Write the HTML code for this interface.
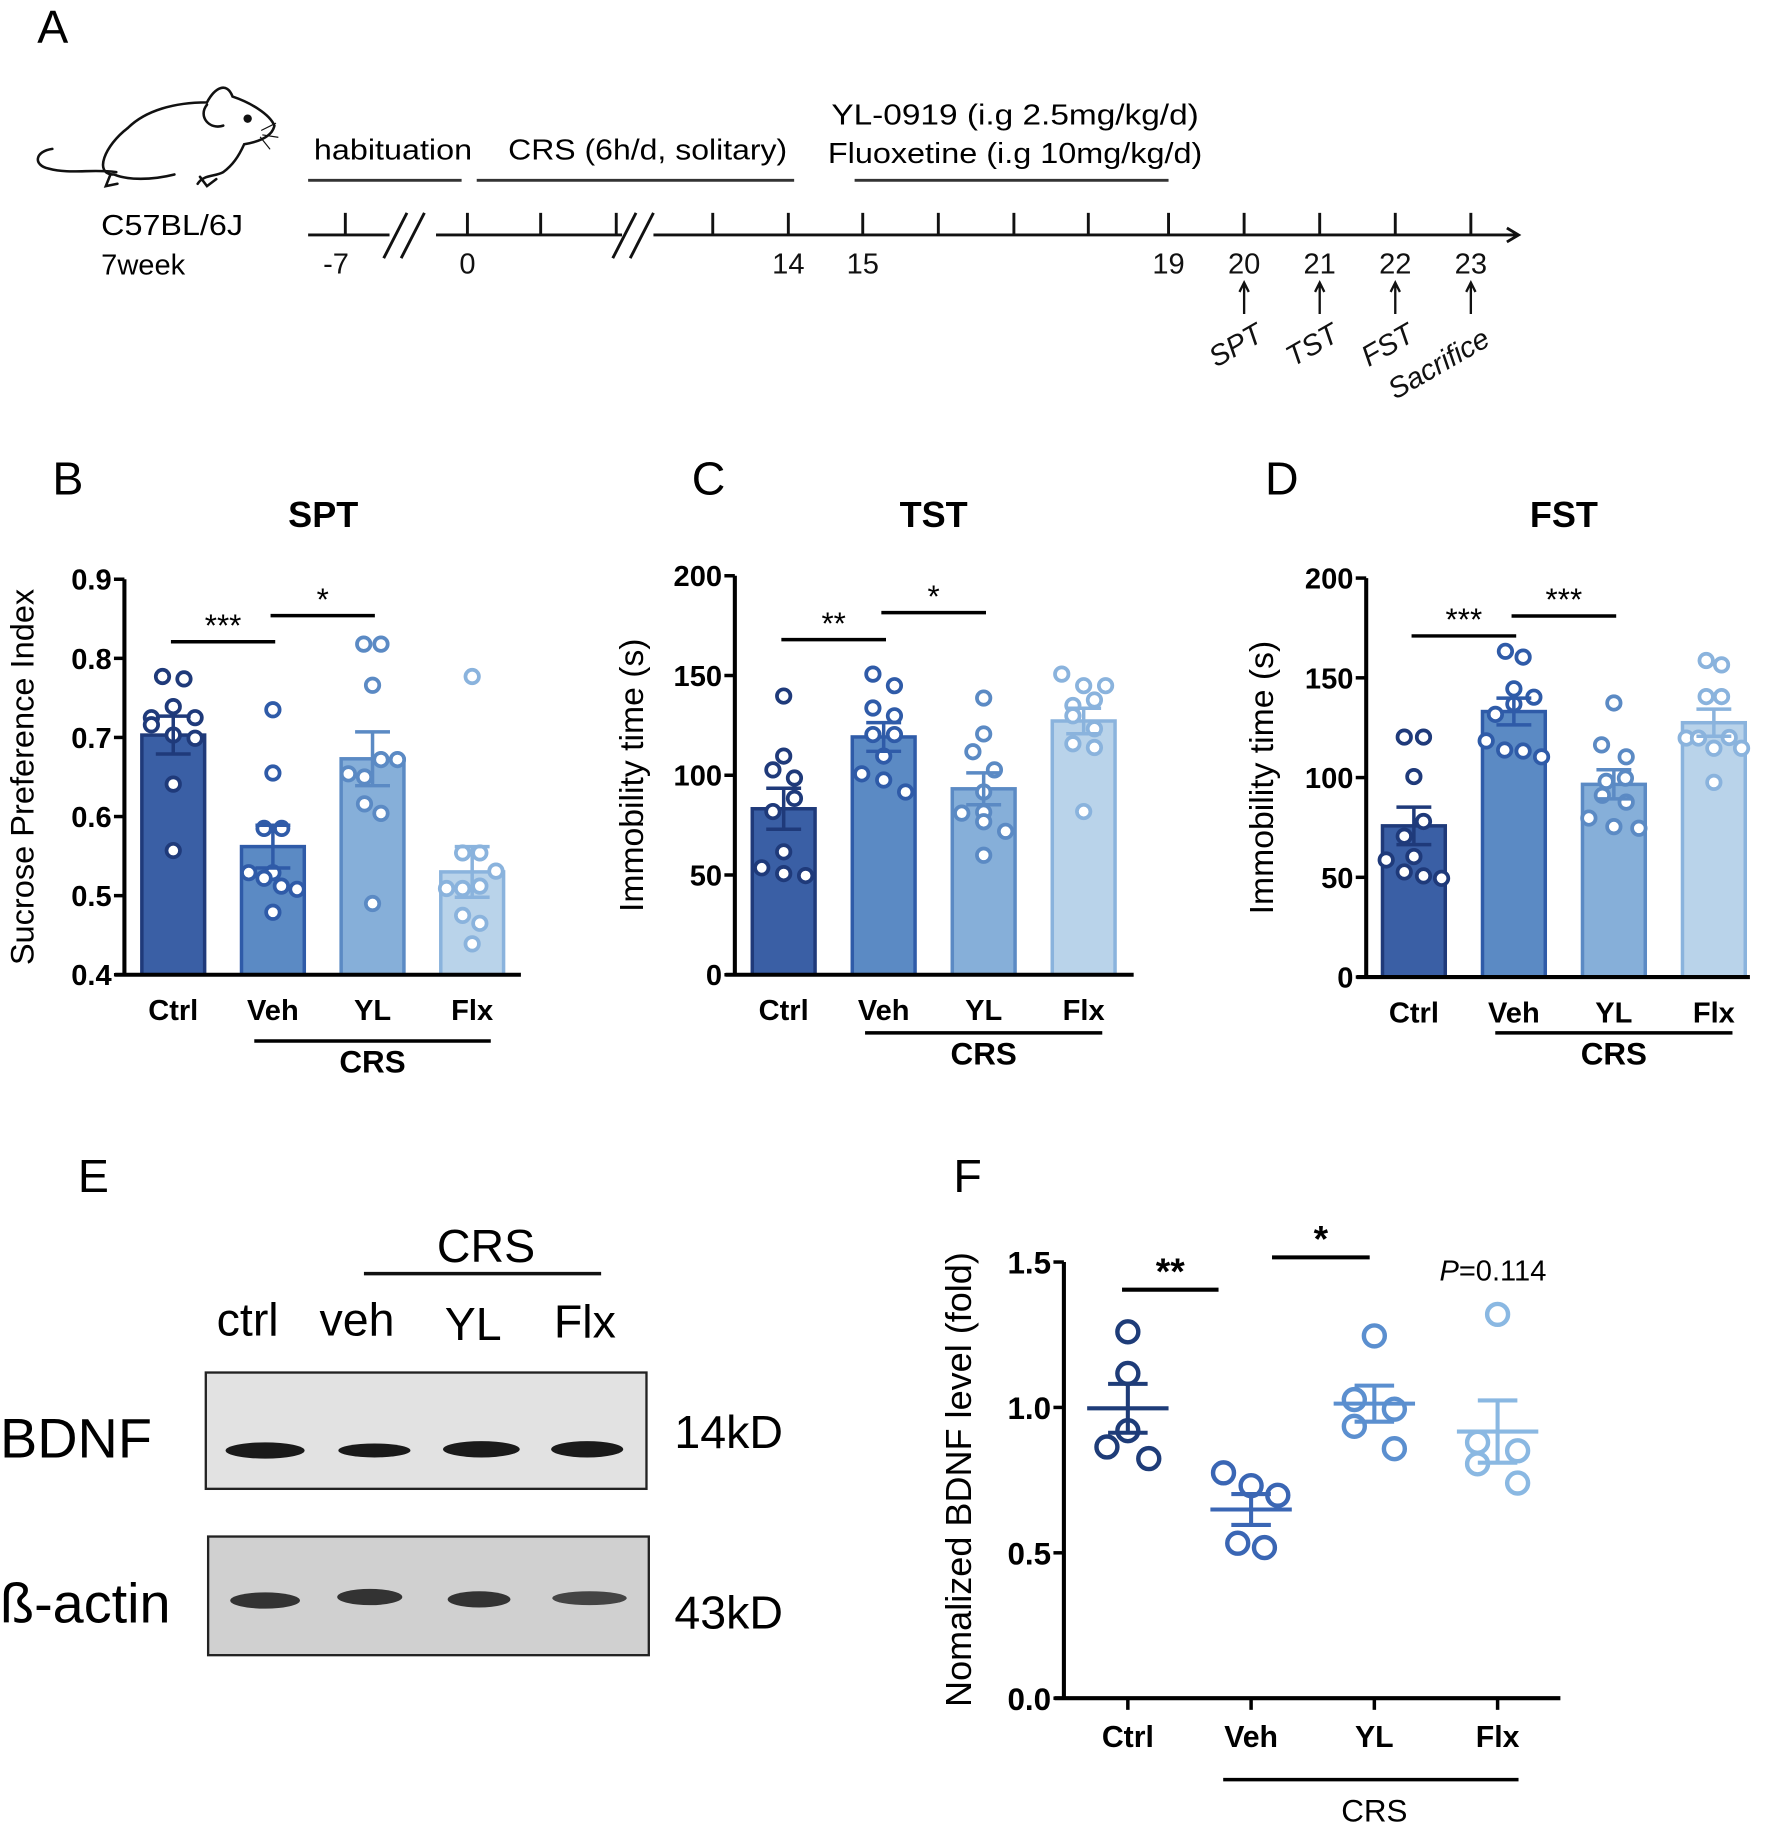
<!DOCTYPE html>
<html><head><meta charset="utf-8"><style>
html,body{margin:0;padding:0;background:#fff}
svg{display:block}
text{font-family:"Liberation Sans",Arial,sans-serif}
</style></head><body>
<svg id="fig" width="1772" height="1825" viewBox="0 0 1524 1569" preserveAspectRatio="none" xmlns="http://www.w3.org/2000/svg">
<rect width="1524" height="1569" fill="#fff"/>
<!-- Panel A -->
<g>
<text x="32" y="37" font-size="40">A</text>
<g fill="none" stroke="#111" stroke-width="2.2" stroke-linecap="round">
<path d="M98,150 C80,150 90,125 110,110 C125,95 150,88 178,88 C185,75 195,70 200,83 C215,88 232,98 236,108 C234,118 222,122 210,124 C205,135 200,142 192,148 C185,152 175,150 170,158 M150,150 C130,155 110,155 98,150"/>
<path d="M100,148 C80,145 60,150 42,145 C28,142 30,130 45,128"/>
<path d="M178,90 C170,100 180,112 192,108"/>
<circle cx="213" cy="102" r="2.5" fill="#111"/>
<path d="M95,150 l-4,10 l10,-2 M172,152 l6,8 l8,-6"/>
<path d="M225,112 l12,-6 M226,116 l13,2 M224,118 l8,10" stroke-width="1"/>
</g>
<text x="87" y="202" font-size="25" textLength="122" lengthAdjust="spacingAndGlyphs">C57BL/6J</text>
<text x="87" y="236" font-size="25">7week</text>
<text x="270" y="137" font-size="25" textLength="136" lengthAdjust="spacingAndGlyphs">habituation</text>
<text x="437" y="137" font-size="25" textLength="240" lengthAdjust="spacingAndGlyphs">CRS (6h/d, solitary)</text>
<text x="715" y="107" font-size="25" textLength="316" lengthAdjust="spacingAndGlyphs">YL-0919  (i.g 2.5mg/kg/d)</text>
<text x="712" y="140" font-size="25" textLength="322" lengthAdjust="spacingAndGlyphs">Fluoxetine (i.g 10mg/kg/d)</text>
<g stroke="#333" stroke-width="2.5">
<line x1="265" y1="155" x2="397" y2="155"/><line x1="410" y1="155" x2="683" y2="155"/><line x1="735" y1="155" x2="1005" y2="155"/>
</g>
<g id="timeline" stroke="#111" stroke-width="2.5" fill="none"></g>
</g>
<!-- Panel E -->
<g>
<text x="67" y="1025" font-size="40">E</text>
<text x="418" y="1085" font-size="40" text-anchor="middle">CRS</text>
<line x1="313" y1="1095" x2="517" y2="1095" stroke="#111" stroke-width="3"/>
<text x="213" y="1148" font-size="40" text-anchor="middle">ctrl</text>
<text x="307" y="1148" font-size="40" text-anchor="middle">veh</text>
<text x="407" y="1152" font-size="40" text-anchor="middle">YL</text>
<text x="503" y="1150" font-size="40" text-anchor="middle">Flx</text>
<rect x="177" y="1180" width="379" height="100" fill="#e2e2e2" stroke="#222" stroke-width="2"/>
<rect x="179" y="1321" width="379" height="102" fill="#d0d0d0" stroke="#222" stroke-width="2"/>
<g fill="#1a1a1a">
<ellipse cx="228" cy="1247" rx="34" ry="7"/><ellipse cx="322" cy="1247" rx="31" ry="6"/><ellipse cx="414" cy="1246" rx="33" ry="7"/><ellipse cx="505" cy="1246" rx="31" ry="7"/>
<ellipse cx="228" cy="1376" rx="30" ry="7" fill="#333"/><ellipse cx="318" cy="1373" rx="28" ry="7" fill="#333"/><ellipse cx="412" cy="1375" rx="27" ry="7" fill="#333"/><ellipse cx="507" cy="1374" rx="32" ry="6" fill="#444"/>
</g>
<text x="0" y="1253" font-size="48">BDNF</text>
<text x="0" y="1395" font-size="48">ß-actin</text>
<text x="580" y="1245" font-size="40">14kD</text>
<text x="580" y="1400" font-size="40">43kD</text>
</g>
<g id="charts"></g>
</svg>
<script>
// ---------- SPT (panel B) ----------
const sptCategories = ["Ctrl","Veh","YL","Flx"];
const sptMeans = [0.703, 0.562, 0.673, 0.530];
const sptSems = [0.024, 0.027, 0.034, 0.032];
const sptPoints = [
 [0.777,0.774,0.739,0.725,0.725,0.716,0.703,0.699,0.641,0.557],
 [0.735,0.655,0.585,0.585,0.529,0.529,0.522,0.512,0.508,0.479],
 [0.818,0.818,0.766,0.672,0.672,0.654,0.650,0.616,0.604,0.490],
 [0.777,0.554,0.554,0.531,0.509,0.509,0.512,0.475,0.465,0.439]];
const sptTicks = [0.4,0.5,0.6,0.7,0.8,0.9];
const sptTickLabels = ["0.4","0.5","0.6","0.7","0.8","0.9"];
const sptSig = [{from:0,to:1,v:0.821,label:"***"},{from:1,to:2,v:0.854,label:"*"}];
// ---------- TST (panel C) ----------
const tstCategories = ["Ctrl","Veh","YL","Flx"];
const tstMeans = [83.2, 119.2, 93.2, 127.2];
const tstSems = [10.3, 7.2, 8.0, 6.4];
const tstPoints = [
 [139.7,109.6,102.7,98.6,88.4,81.8,61.6,53.6,50.7,49.7],
 [150.7,144.9,133.7,129.8,120.4,120.4,109.6,100.7,97.6,91.6],
 [138.7,120.7,111.8,102.7,91.6,81.0,81.5,76.7,71.9,59.9],
 [150.7,144.9,144.9,137.7,135.0,129.8,123.3,115.8,113.9,81.8]];
const tstTicks = [0,50,100,150,200];
const tstTickLabels = ["0","50","100","150","200"];
const tstSig = [{from:0,to:1,v:168,label:"**"},{from:1,to:2,v:181.5,label:"*"}];
// ---------- FST (panel D) ----------
const fstCategories = ["Ctrl","Veh","YL","Flx"];
const fstMeans = [75.8, 133.1, 96.6, 127.5];
const fstSems = [9.4, 6.7, 7.3, 6.8];
const fstPoints = [
 [120.3,120.3,100.5,78.0,70.6,60.4,58.7,52.7,50.7,49.5],
 [163.3,160.4,144.5,140.3,136.9,131.7,118.4,113.8,113.3,110.4],
 [137.4,116.4,110.4,99.7,98.1,91.1,87.7,79.7,75.4,74.6],
 [158.7,156.5,140.6,140.6,119.8,119.8,120.1,114.7,114.7,97.6]];
const fstTicks = [0,50,100,150,200];
const fstTickLabels = ["0","50","100","150","200"];
const fstSig = [{from:0,to:1,v:171,label:"***"},{from:1,to:2,v:181,label:"***"}];
// ---------- BDNF (panel F) ----------
const bdnfCategories = ["Ctrl","Veh","YL","Flx"];
const bdnfMeans = [0.997, 0.649, 1.013, 0.917];
const bdnfSems = [0.084, 0.053, 0.062, 0.107];
const bdnfPoints = [
 [1.260,1.117,0.920,0.864,0.824],
 [0.775,0.731,0.698,0.533,0.518],
 [1.246,1.027,0.994,0.935,0.858],
 [1.320,0.880,0.851,0.806,0.740]];
const bdnfTicks = [0,0.5,1.0,1.5];
const bdnfTickLabels = ["0.0","0.5","1.0","1.5"];
// ---------- Timeline (panel A) ----------
const timelineDays = ["-7","0","","","","14","15","","","","19","20","21","22","23"];
const timelineTests = ["SPT","TST","FST","Sacrifice"];

// layout (not data): jitter offsets as fractions of category spacing
const J = (a)=>a.map(r=>r.map(v=>v/260));
const sptJit = J([[-28,28,0,-57,57,-57,0,57,0,0],[0,0,-23,23,-63,0,-23,22,63,0],[-23,22,0,22,65,-63,-21,-21,22,0],[0,-25,20,62,-67,-25,20,-25,20,0]]);
const tstJit = J([[0,0,-28,28,28,-28,0,-57,0,57],[-28,28,-28,28,-28,28,0,-57,0,57],[0,0,-28,28,0,-57,0,0,57,0],[-57,0,57,28,-28,-28,28,-28,28,0]]);
const fstJit = J([[-25,25,0,25,-25,0,-72,-25,25,72],[-22,24,0,52,0,-48,-72,-24,24,72],[0,-32,32,30,-20,-30,32,-65,0,65],[-20,20,-20,20,-72,-40,40,0,72,0]]);
const bdnfJit = [[0,0,0,-47,47],[-62,0,60,-30,30],[0,-45,45,-45,45],[0,-45,45,-45,45]].map(r=>r.map(v=>v/277));

const fills = ["#3a5fa5","#5b8ac4","#86afd9","#b9d3ea"];
const edges = ["#1f3a7a","#2f5ba8","#5b8ac4","#8ab3dd"];
const fEdges = ["#1e3c78","#3a66b4","#5b8fcf","#8ab8e2"];
const NS = "http://www.w3.org/2000/svg";
const root = document.getElementById("charts");
function el(tag, attrs, parent, text){
  const e = document.createElementNS(NS, tag);
  for (const k in attrs) e.setAttribute(k, attrs[k]);
  if (text !== undefined) e.textContent = text;
  (parent||root).appendChild(e);
  return e;
}

function barChart(o){
  const g = el("g", {});
  
  
  const y = v => o.y0 - (v - o.vmin) / (o.vmax - o.vmin) * (o.y0 - o.y1);
  const x = i => o.c0 + i * o.sp;
  const lab = el("text", {x:o.labX, y:425, "font-size":40}, g, o.letter);
  
  
  const t = el("text", {x:o.titleX, y:453, "font-size":31, "font-weight":"bold", "text-anchor":"middle"}, g, o.title);
  
  
  o.means.forEach((m, i) => {
    const b = el("rect", {x:x(i)-27, y:y(m), width:54, height:o.y0-y(m), fill:fills[i], stroke:edges[i], "stroke-width":3}, g);
    
    
  });
  o.pts.forEach((arr, i) => arr.forEach((v, k) => {
    const c = el("circle", {cx:x(i)+o.jit[i][k]*o.sp, cy:y(v), r:5.8, fill:"#fff", stroke:edges[i], "stroke-width":3.2}, g);
    
    
  }));
  o.means.forEach((m, i) => {
    const e = el("path", {d:`M${x(i)},${y(m-o.sems[i])}V${y(m+o.sems[i])}M${x(i)-15},${y(m+o.sems[i])}H${x(i)+15}M${x(i)-15},${y(m-o.sems[i])}H${x(i)+15}`, stroke:edges[i], "stroke-width":3, fill:"none"}, g);
    
    
  });
  const ax = el("path", {d:`M${o.ax},${y(o.vmax)}V${o.y0}M${o.ax-8},${o.y0}H${o.xEnd}`, stroke:"#000", "stroke-width":3.5, fill:"none"}, g);
  
  
  o.ticks.forEach((tv, k) => {
    el("line", {x1:o.ax-9, x2:o.ax, y1:y(tv), y2:y(tv), stroke:"#000", "stroke-width":3}, g);
    const tl = el("text", {x:o.ax-11, y:y(tv)+9, "font-size":25, "font-weight":"bold", "text-anchor":"end"}, g, o.tickLabels[k]);
    
    
  });
  o.cats.forEach((c, i) => {
    const cl = el("text", {x:x(i), y:o.y0+39, "font-size":25, "font-weight":"bold", "text-anchor":"middle"}, g, c);
    
    
  });
  el("line", {x1:x(1)-16, x2:x(3)+16, y1:o.y0+o.crsDy, y2:o.y0+o.crsDy, stroke:"#000", "stroke-width":3}, g);
  const cr = el("text", {x:x(2), y:o.y0+o.crsDy+27, "font-size":27, "font-weight":"bold", "text-anchor":"middle"}, g, "CRS");
  
  
  const yt = el("text", {x:0, y:0, "font-size":o.ytSize, "text-anchor":"middle", transform:`translate(${o.ytX},${(o.y0+y(o.vmax))/2}) rotate(-90)`}, g, o.ytitle);
  
  
  o.sig.forEach(s => {
    const x1 = x(s.from)-2, x2 = x(s.to)+2;
    el("line", {x1:x1, x2:x2, y1:y(s.v), y2:y(s.v), stroke:"#000", "stroke-width":3}, g);
    const st = el("text", {x:(x1+x2)/2, y:y(s.v)-5, "font-size":27, "text-anchor":"middle"}, g, s.label);
    
    
  });
}

barChart({name:"spt-chart", letter:"B", labX:45, title:"SPT", titleX:278, cats:sptCategories, means:sptMeans, sems:sptSems, pts:sptPoints, jit:sptJit,
  ticks:sptTicks, tickLabels:sptTickLabels, sig:sptSig, vmin:0.4, vmax:0.9, y0:838, y1:498, ax:107, xEnd:448, c0:149, sp:85.7, crsDy:57, ytX:29, ytSize:28, ytitle:"Sucrose Preference Index"});
barChart({name:"tst-chart", letter:"C", labX:595, title:"TST", titleX:803, cats:tstCategories, means:tstMeans, sems:tstSems, pts:tstPoints, jit:tstJit,
  ticks:tstTicks, tickLabels:tstTickLabels, sig:tstSig, vmin:0, vmax:200, y0:838, y1:495, ax:632, xEnd:975, c0:674, sp:86, crsDy:50, ytX:553, ytSize:29, ytitle:"Immobility time (s)"});
barChart({name:"fst-chart", letter:"D", labX:1088, title:"FST", titleX:1345, cats:fstCategories, means:fstMeans, sems:fstSems, pts:fstPoints, jit:fstJit,
  ticks:fstTicks, tickLabels:fstTickLabels, sig:fstSig, vmin:0, vmax:200, y0:840, y1:497, ax:1175, xEnd:1505, c0:1216, sp:86, crsDy:48, ytX:1095, ytSize:29, ytitle:"Immobility time (s)"});

// ---------- Panel F scatter ----------
(function(){
  const g = el("g", {});
  
  
  const y0 = 1460, y1 = 1085, ax = 915, c0 = 970, sp = 106;
  const y = v => y0 - v / 1.5 * (y0 - y1);
  const x = i => c0 + i * sp;
  const lab = el("text", {x:820, y:1025, "font-size":40}, g, "F");
  
  
  bdnfPoints.forEach((arr, i) => arr.forEach((v, k) => {
    const c = el("circle", {cx:x(i)+bdnfJit[i][k]*sp, cy:y(v), r:9, fill:"none", stroke:fEdges[i], "stroke-width":3.8}, g);
    
    
  }));
  bdnfMeans.forEach((m, i) => {
    const s = bdnfSems[i];
    const e = el("path", {d:`M${x(i)-35},${y(m)}H${x(i)+35}M${x(i)},${y(m-s)}V${y(m+s)}M${x(i)-17},${y(m+s)}H${x(i)+17}M${x(i)-17},${y(m-s)}H${x(i)+17}`, stroke:fEdges[i], "stroke-width":3.5, fill:"none"}, g);
    
    
  });
  const axp = el("path", {d:`M${ax},${y1}V${y0}M${ax-8},${y0}H1342`, stroke:"#000", "stroke-width":3.5, fill:"none"}, g);
  
  
  bdnfTicks.forEach((tv, k) => {
    el("line", {x1:ax-9, x2:ax, y1:y(tv), y2:y(tv), stroke:"#000", "stroke-width":3}, g);
    const tl = el("text", {x:ax-11, y:y(tv)+10, "font-size":27, "font-weight":"bold", "text-anchor":"end"}, g, bdnfTickLabels[k]);
    
    
  });
  bdnfCategories.forEach((c, i) => {
    el("line", {x1:x(i), x2:x(i), y1:y0, y2:y0+10, stroke:"#000", "stroke-width":3}, g);
    const cl = el("text", {x:x(i), y:y0+42, "font-size":26, "font-weight":"bold", "text-anchor":"middle"}, g, c);
    
    
  });
  el("line", {x1:1052, x2:1306, y1:1530, y2:1530, stroke:"#000", "stroke-width":3}, g);
  const cr = el("text", {x:x(2), y:1566, "font-size":27, "text-anchor":"middle"}, g, "CRS");
  
  
  const yt = el("text", {x:0, y:0, "font-size":31, "text-anchor":"middle", transform:`translate(835,1272) rotate(-90)`}, g, "Nomalized BDNF level (fold)");
  
  
  el("line", {x1:x(0)-5, x2:x(1)-28, y1:y(1.405), y2:y(1.405), stroke:"#000", "stroke-width":3.5}, g);
  const s1 = el("text", {x:(x(0)+x(1)-33)/2, y:y(1.405)-5, "font-size":32, "font-weight":"bold", "text-anchor":"middle"}, g, "**");
  
  
  el("line", {x1:x(1)+18, x2:x(2)-4, y1:y(1.516), y2:y(1.516), stroke:"#000", "stroke-width":3.5}, g);
  const s2 = el("text", {x:(x(1)+x(2)+14)/2, y:y(1.516)-5, "font-size":32, "font-weight":"bold", "text-anchor":"middle"}, g, "*");
  
  
  const p = el("text", {x:1238, y:1101, "font-size":25}, g);
  
  
  el("tspan", {"font-style":"italic"}, p, "P");
  el("tspan", {}, p, "=0.114");
})();

// ---------- timeline ----------
(function(){
  const tl = document.getElementById("timeline");
  const base = 202;
  const tickX = [297,402,465,530,613,678,742,807,872,936,1005,1070,1135,1200,1265];
  el("path", {d:`M265,${base}H335M375,${base}H535M562,${base}H1305M1296,${base-6}L1306,${base}L1296,${base+6}`}, tl);
  el("path", {d:"M330,222L350,183M345,222L365,183M527,222L547,183M542,222L562,183"}, tl);
  tickX.forEach((tx, k) => {
    el("line", {x1:tx, x2:tx, y1:183, y2:base}, tl);
    if (timelineDays[k]) {
      const t = el("text", {x:tx-(k===0?8:0), y:235, "font-size":25, "text-anchor":"middle", stroke:"none", fill:"#111"}, tl, timelineDays[k]);
      
      
    }
  });
  timelineTests.forEach((name, k) => {
    const tx = tickX[11 + k];
    el("path", {d:`M${tx},270V244M${tx-4},251L${tx},243L${tx+4},251`, "stroke-width":2}, tl);
    const t = el("text", {x:0, y:0, "font-size":25, "font-style":"italic", "text-anchor":"end", stroke:"none", fill:"#111", transform:`translate(${tx+18},${k===3?296:292}) rotate(-30)`}, tl, name);
    
    
  });
})();
</script>
</body></html>
